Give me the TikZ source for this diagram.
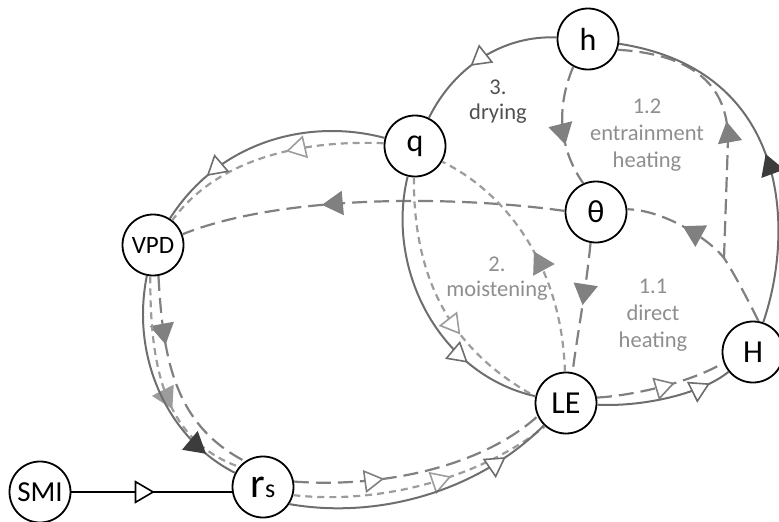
\documentclass[tikz,border=0pt]{standalone}
\usepackage{fontspec}
\setmainfont{Carlito}
\usetikzlibrary{arrows.meta,decorations.markings}
\definecolor{linegray}{HTML}{6E6E6E}
\definecolor{heatgray}{HTML}{808080}
\definecolor{moistgray}{HTML}{9C9C9C}
\definecolor{tipdark}{HTML}{3C3C3C}
\definecolor{tipmid}{HTML}{8A8A8A}
\definecolor{lblgray}{HTML}{8E8E8E}
\definecolor{lbldark}{HTML}{505050}
\begin{document}
\begin{tikzpicture}[x=1pt,y=-1pt,
    varnode/.style={circle,draw=black,line width=1.8pt,fill=white,text=black,minimum size=61pt,inner sep=0pt,font=\fontsize{32}{32}\selectfont},
    solidarc/.style={draw=linegray,line width=2pt},
    heat/.style={draw=heatgray,line width=2.2pt,dash pattern=on 15pt off 7pt},
    moist/.style={draw=moistgray,line width=2.2pt,dash pattern=on 7pt off 5pt},
    tipat/.style 2 args={postaction={decorate,decoration={markings,mark=at position #1 with {\arrow{#2}}}}},
    lbl/.style={align=center,text=lblgray,font=\fontsize{22.5}{27}\selectfont},
    openblack/.tip={Triangle[length=20pt,width=23pt,line width=1.6pt,color=black,fill=white]},
    opendark/.tip={Triangle[length=20pt,width=23pt,line width=1.6pt,color=linegray,fill=white]},
    openheat/.tip={Triangle[length=20pt,width=23pt,line width=1.6pt,color=heatgray,fill=white]},
    openmoist/.tip={Triangle[length=20pt,width=23pt,line width=1.6pt,color=moistgray,fill=white]},
    filldark/.tip={Triangle[length=21pt,width=24pt,color=tipdark]},
    fillheat/.tip={Triangle[length=21pt,width=24pt,color=heatgray]},
    fillmid/.tip={Triangle[length=21pt,width=24pt,color=tipmid]},
    fillmoist/.tip={Triangle[length=21pt,width=24pt,color=moistgray]}]
  \useasboundingbox (0,0) rectangle (779,522);

  \node[varnode] (h) at (588,39) {h};
  \node[varnode] (q) at (415,146) {q};
  \node[varnode] (theta) at (596,212) {θ};
  \node[varnode,font=\fontsize{25}{25}\selectfont] (VPD) at (153,245) {VPD};
  \node[varnode] (H) at (753,352) {H};
  \node[varnode] (LE) at (566,403) {LE};
  \node[varnode] (rs) at (263,487) {{\fontsize{42}{42}\selectfont r}{\fontsize{26}{26}\selectfont s}};
  \node[varnode,font=\fontsize{29}{29}\selectfont] (SMI) at (40,492) {SMI};
  \coordinate (fork) at (724,258);

  \draw[heat,tipat={0.63}{fillheat}] (theta.178) .. controls (450,195) and (280,195) .. (VPD.20);
  \draw[heat,tipat={0.32}{fillheat}] (VPD.-80) .. controls (163,360) and (175,425) .. (rs.125);
  \draw[heat,tipat={0.35}{openheat}] (rs.10) .. controls (380,488) and (480,468) .. (LE.-155);
  \draw[heat,tipat={0.6}{openheat}] (LE.10) .. controls (630,396) and (690,383) .. (H.-160);
  \draw[heat,tipat={0.68}{fillheat}] (H.80) .. controls (748,300) and (735,275) .. (fork)
    .. controls (710,240) and (665,210) .. (theta.5);
  \draw[heat,tipat={0.49}{fillheat}] (fork) -- (728,140) .. controls (728,95) and (705,55) .. (h.-20);
  \draw[heat,tipat={0.65}{fillheat}] (h.-118) .. controls (555,110) and (560,150) .. (theta.114);
  \draw[heat,tipat={0.48}{fillheat}] (theta.-100) .. controls (586,290) and (578,330) .. (LE.78);

  \draw[moist,tipat={0.6}{openmoist}] (rs.-15) .. controls (380,505) and (480,478) .. (LE.-132);
  \draw[moist,tipat={0.63}{openmoist}] (q.-92) .. controls (413,290) and (460,355) .. (LE.168);
  \draw[moist,tipat={0.49}{fillmid}] (LE.92) .. controls (562,270) and (510,195) .. (q.-30);
  \draw[moist,tipat={0.42}{openmoist}] (q.175) .. controls (310,140) and (220,155) .. (VPD.52);
  \draw[moist,tipat={0.6}{fillmoist}] (VPD.-95) .. controls (150,370) and (165,440) .. (rs.140);

  \draw[solidarc,draw=black,tipat={0.52}{openblack}] (SMI.east) -- (rs.west |- SMI.east);
  \draw[solidarc,tipat={0.82}{opendark}] (rs.-33) .. controls (380,520) and (480,490) .. (LE);
  \draw[solidarc,tipat={0.84}{opendark}] (LE) .. controls (640,407) and (700,395) .. (H);
  \draw[solidarc,tipat={0.47}{filldark}] (H) .. controls (795,230) and (790,70) .. (h);
  \draw[solidarc,tipat={0.58}{opendark}] (h) .. controls (505,35) and (455,65) .. (q);
  \draw[solidarc,tipat={0.77}{opendark}] (q) .. controls (310,118) and (220,140) .. (VPD);
  \draw[solidarc,tipat={0.85}{filldark}] (VPD) .. controls (130,360) and (170,440) .. (rs);
  \draw[solidarc,tipat={0.73}{opendark}] (q) .. controls (385,270) and (440,375) .. (LE);

  \node[lbl,text=lbldark,font=\fontsize{22.5}{25}\selectfont] (drying) at (498,102) {3.\\drying};
  \node[lbl] (entrain) at (647,135) {1.2\\entrainment\\heating};
  \node[lbl,font=\fontsize{22.5}{25}\selectfont] (moisten) at (497,279) {2.\\moistening};
  \node[lbl] (direct) at (653,315) {1.1\\direct\\heating};
\end{tikzpicture}
\end{document}
